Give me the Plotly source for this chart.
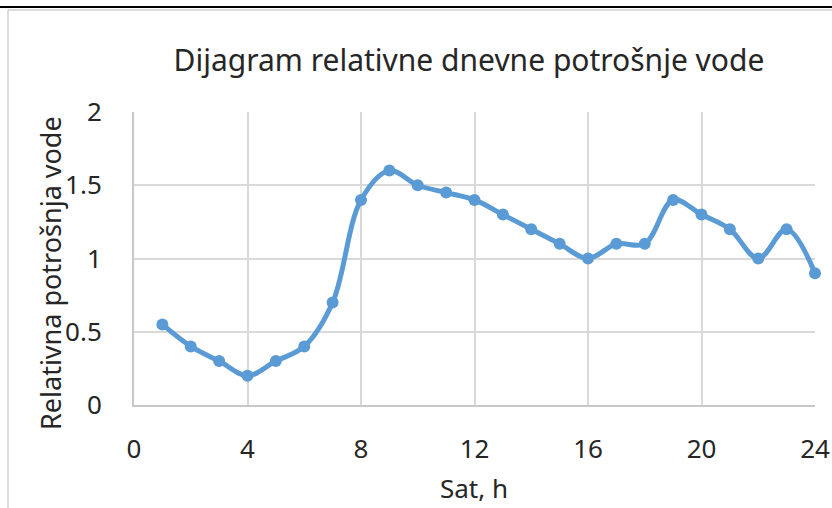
import plotly.graph_objects as go

hours = list(range(1, 25))
consumption = [0.55, 0.4, 0.3, 0.2, 0.3, 0.4, 0.7, 1.4, 1.6, 1.5, 1.45, 1.4,
               1.3, 1.2, 1.1, 1.0, 1.1, 1.1, 1.4, 1.3, 1.2, 1.0, 1.2, 0.9]
x_ticks = [0, 4, 8, 12, 16, 20, 24]
y_ticks = [0, 0.5, 1, 1.5, 2]
title_text = "Dijagram relativne dnevne potrošnje vode"
x_title = "Sat, h"
y_title = "Relativna potrošnja vode"

W, H = 832, 508
ml, mr, mt, mb = 134, 17, 112, 103
pw, ph = W - ml - mr, H - mt - mb

def px(xp):
    return (xp - ml) / pw

def py(yp):
    return (H - mb - yp) / ph

fig = go.Figure()
fig.add_trace(go.Scatter(
    x=hours, y=consumption, mode="lines+markers",
    line=dict(color="#5B9BD5", width=5, shape="spline", smoothing=1),
    marker=dict(color="#5B9BD5", size=12),
    showlegend=False, cliponaxis=False,
))

font = "Noto Sans, Open Sans, sans-serif"
tc = "#262626"
grid = "#D9D9D9"
fig.update_layout(
    width=W, height=H,
    margin=dict(l=ml, r=mr, t=mt, b=mb, autoexpand=False),
    paper_bgcolor="white", plot_bgcolor="white",
    font=dict(family=font, color=tc, size=26),
    title=dict(text=title_text, x=(175 + 763) / 2 / W, xanchor="center",
               y=1 - 60 / H, yanchor="middle", font=dict(size=30, color=tc)),
    xaxis=dict(range=[0, 24], tickvals=x_ticks, showgrid=True, automargin=False,
               gridcolor=grid, gridwidth=1.5, showline=True, linecolor="#C8C8C8", linewidth=2,
               zeroline=False, ticks="", ticklen=0, ticklabelstandoff=20,
               tickfont=dict(size=26, color=tc)),
    yaxis=dict(range=[0, 2], tickvals=y_ticks, showgrid=True, automargin=False,
               gridcolor=grid, gridwidth=1.5, showline=True, linecolor="#C8C8C8", linewidth=2,
               zeroline=False, ticks="", ticklen=0, ticklabelstandoff=25,
               tickfont=dict(size=26, color=tc)),
    annotations=[
        dict(text=x_title, xref="paper", yref="paper", x=px(474), y=py(488),
             xanchor="center", yanchor="middle", showarrow=False,
             font=dict(size=26, color=tc)),
        dict(text=y_title, xref="paper", yref="paper", x=px(50), y=py(273),
             xanchor="center", yanchor="middle", showarrow=False, textangle=-90,
             font=dict(size=27, color=tc)),
    ],
    shapes=[
        dict(type="line", xref="paper", yref="paper", x0=px(0), x1=px(W), y0=py(7), y1=py(7),
             line=dict(color="black", width=2)),
        dict(type="line", xref="paper", yref="paper", x0=px(8), x1=px(W), y0=py(10), y1=py(10),
             line=dict(color="#D0D0D0", width=1.5)),
        dict(type="line", xref="paper", yref="paper", x0=px(8), x1=px(8), y0=py(10), y1=py(H),
             line=dict(color="#D0D0D0", width=1.5)),
    ],
)
fig.write_html("out.html", config={"displayModeBar": False},
               post_script="document.body.style.margin='0';document.body.style.overflow='hidden';")
